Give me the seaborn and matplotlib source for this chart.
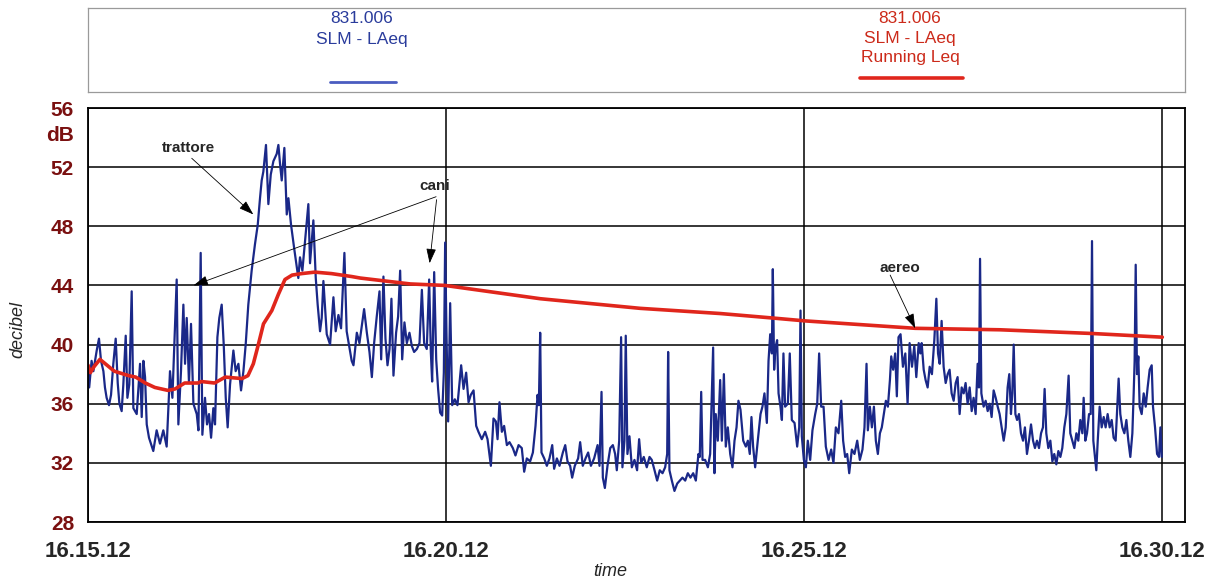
import matplotlib
matplotlib.use("Agg")
import matplotlib.pyplot as plt
import seaborn as sns
import pandas as pd

# SLM - LAeq, seconds after 16.15.12 and level in dB
slm_t = [
    0, 1, 3, 4.5, 7.3, 9.2, 10.9, 12.9, 14.2, 15.6, 17.6, 19.3, 21.2, 23.2, 24.9, 26.3, 28.2, 29.6,
    31.6, 33.0, 34.6, 36.6, 38.0, 40.8, 43.6, 45.0, 46.4, 47.8, 49.2, 51.1, 54.7, 57.5, 60.3, 63.1,
    65.9, 68.7, 70.7, 74.3, 75.7, 77.9, 79.9, 81.3, 82.7, 84.6, 86.3, 88.3, 91.1, 92.5, 94.4, 95.8,
    98.0, 99.7, 101.4, 103.1, 105.0, 106.4, 108.4, 110.0, 112.0, 113.7, 115.4, 117.0, 119.0, 121.8,
    123.7, 126.0, 128.2, 130.2, 132.1, 134.3, 137.1, 139.9, 142.2, 144.1, 145.5, 146.9, 149.1, 151.1,
    153.1, 155.3, 158.1, 159.5, 160.9, 162.3, 164.5, 166.5, 167.9, 170.1, 172.9, 176.2, 177.6, 179.6,
    184.6, 186.0, 188.8, 190.8, 192.4, 194.4, 195.8, 197.2, 200.0, 202.8, 205.6, 207.5, 209.8, 212.0,
    214.8, 216.7, 220.9,
    222.4, 225.2, 227.4, 229.4, 231.3, 233.6, 235.8, 237.8, 239.7, 241.9, 244.2, 245.6, 247.5, 249.2,
    250.9, 252.6, 254.2, 255.9, 258.1, 259.8, 261.5, 263.2, 265.1, 267.1, 269.3, 271.3, 273.2, 275.5,
    277.7, 279.7, 281.6, 283.8, 285.8, 287.2, 288.3, 290.0, 291.7, 293.3, 295.0, 296.7, 298.1, 299.2,
    300.3, 301.7, 303.4, 305.1, 307.3, 309.5, 312.6, 314.6, 316.8, 318.8, 320.7, 323.0, 325.2, 327.1,
    329.9, 332.7, 334.7, 337.5, 339.7, 341.7, 343.1, 344.7, 346.7, 348.6, 350.9, 353.1, 355.9, 358.1,
    360.7, 363.4, 365.4, 367.6, 370.4, 372.7, 374.9, 376.6, 377.7, 378.8, 379.9, 382.2, 384.4, 386.6,
    388.9, 390.5, 392.8, 395.0, 397.8, 399.8, 401.7, 403.9, 405.6, 407.8, 410.6, 412.3, 414.5, 416.8,
    419.0, 421.3, 424.0, 426.9, 428.5, 430.2, 431.3, 433.0, 435.2, 437.5, 439.7,
    441.6, 443.0, 445.0, 446.6, 447.7, 449.4, 450.5, 451.9, 453.6, 455.6, 457.8, 460.0, 461.7, 463.4,
    465.6, 468.1, 470.4, 472.3, 474.6, 476.8, 479.0, 481.3, 483.5, 485.2, 486.0, 487.1, 489.1, 491.3,
    493.6, 495.8, 498.0, 500.3, 502.5, 504.7, 507.0, 509.2, 511.4, 512.5, 513.7, 514.8, 517.0, 519.3,
    521.2, 522.6, 523.7, 524.8, 525.9, 527.6, 529.6, 531.0, 532.7, 534.3, 536.0, 538.0, 539.9, 541.6,
    543.3, 544.9, 546.6, 548.9, 551.1, 552.8, 554.4, 555.8, 557.2, 558.9, 561.1, 563.4, 565.0, 566.7,
    568.7, 570.1, 571.5, 572.9, 573.7, 574.8, 575.9, 577.3, 578.5, 580.1, 581.3, 582.6, 584.0, 586.3,
    587.9, 589.6, 591.9, 594.1, 595.8, 596.9, 598.0, 599.7, 601.4, 603.0, 605.0, 606.9, 609.2, 610.9,
    612.5, 614.2, 616.2, 618.1, 620.4, 622.6, 624.5, 626.5, 628.7, 631.0, 632.6, 634.3, 636.0, 637.7,
    639.9, 642.1, 644.4, 646.6, 648.8, 650.5, 652.2, 653.3, 655.0, 656.7, 658.4, 660.0, 661.7, 663.4,
    665.0, 666.7, 668.4, 670.1, 671.8, 672.9, 674.5, 676.2, 677.6, 679.0, 680.7,
    682.7, 684.7, 686.6, 688.3, 690.3, 692.2, 693.9, 695.9, 697.3, 698.4, 700.1, 701.7, 703.4, 705.1,
    707.0, 709.0, 710.7, 712.1, 713.5, 715.1, 716.8, 718.5, 720.2, 721.8, 723.5, 725.2, 726.9, 728.5,
    730.2, 731.9, 733.6, 735.2, 736.9, 738.6, 740.3, 741.9, 743.6, 745.3, 746.4, 747.3, 748.4, 750.3,
    752.0, 753.7, 755.4, 757.0, 758.7, 760.4, 762.1, 763.7, 765.4, 767.1, 768.8, 770.4, 771.8, 773.2,
    774.3, 775.5, 776.9, 778.3, 779.9, 781.6, 783.3, 784.9, 786.6, 788.3, 790.0, 791.7, 793.3, 795.0,
    796.7, 798.4, 800.0, 801.4, 802.8, 804.5, 806.2, 807.9, 809.5, 811.2, 812.9, 814.6, 816.2, 817.9,
    819.6, 821.5, 822.9, 824.6, 826.3, 828.0, 829.6, 831.3, 833.0, 834.1, 835.5, 836.9, 838.6, 840.0,
    841.1, 842.2, 843.6, 844.7, 845.9, 847.5, 849.2, 850.9, 852.5, 854.2, 855.9, 857.6, 859.2, 860.9,
    862.0, 863.4, 864.8, 866.5, 868.2, 869.9, 871.5, 873.2, 874.9, 876.0, 876.8, 877.7, 878.8, 879.9,
    881.0, 882.7, 884.4, 886.1, 887.7, 889.4, 891.1, 892.2, 893.9, 895.6, 897.2, 898.4, 899.5,
]
slm_db = [
    38.7, 37.1, 38.9, 38.2, 39.6, 40.4, 38.9, 38.2, 37.1, 36.4, 35.9, 36.6, 38.7, 40.4, 37.4, 36.0, 35.5, 37.3,
    40.6, 36.4, 37.3, 43.6, 35.7, 35.3, 38.7, 35.1, 38.9, 37.8, 34.6, 33.7, 32.8, 34.2, 33.3, 34.2,
    33.1, 38.2, 36.4, 44.4, 34.6, 38.2, 42.7, 38.7, 41.8, 37.4, 41.4, 36.0, 35.3, 34.2, 46.2, 33.9,
    36.4, 34.6, 35.3, 33.7, 35.7, 34.6, 40.5, 41.8, 42.7, 40.0, 36.4, 34.4, 37.3, 39.6,
    38.2, 38.7, 36.9, 38.2, 40.0, 42.7, 45.0, 46.8, 48.1, 49.9, 51.1, 51.7, 53.5, 49.5,
    51.5, 52.4, 52.9, 53.5, 52.2, 51.1, 53.3, 48.8, 49.9, 48.1, 46.4, 44.5, 45.9, 45.0,
    49.5, 45.5, 48.4, 44.5, 42.7, 40.9, 41.8, 44.3, 40.7, 40.0, 43.2, 40.9, 42.0, 41.1,
    46.2, 40.9, 38.9,
    38.6, 40.8, 40.1, 41.3, 42.4, 40.8, 39.5, 37.8, 40.1, 41.9, 43.6, 39.0, 44.6, 40.4,
    38.6, 39.7, 43.1, 37.9, 40.8, 41.9, 45.0, 39.0, 41.5, 40.1, 40.8, 39.9, 39.5, 39.7,
    40.1, 43.7, 40.1, 39.7, 44.4, 39.5, 37.5, 44.9, 39.0, 37.0, 35.4, 35.2, 38.1, 46.9,
    40.8, 34.8, 42.8, 35.9, 36.3, 35.9, 38.6, 37.0, 38.1, 36.1, 36.6, 36.9, 34.5, 34.1,
    33.6, 34.1, 33.6, 31.8, 35.0, 34.8, 33.6, 36.1, 34.1, 34.5, 33.2, 33.4, 33.0, 32.5,
    33.2, 33.0, 31.4, 32.3, 32.1, 32.7, 34.5, 36.6, 35.9, 40.8, 32.7, 32.3, 31.8, 32.3,
    33.2, 31.6, 32.3, 31.8, 32.7, 33.2, 32.1, 31.8, 31.0, 31.8, 32.3, 33.4, 31.8, 32.3,
    32.7, 31.8, 32.3, 33.2, 31.8, 36.8, 31.0, 30.3, 31.8, 33.0, 33.2,
    32.6, 31.5, 33.5, 40.5, 31.7, 33.5, 40.6, 32.6, 33.8, 31.7, 32.2, 31.5, 33.6, 32.0,
    32.4, 31.7, 32.4, 32.2, 31.5, 30.8, 31.5, 31.3, 31.7, 32.6, 39.5, 31.5, 30.8, 30.1,
    30.6, 30.8, 31.0, 30.8, 31.3, 31.0, 31.3, 30.8, 32.6, 32.4, 36.8, 32.2, 32.2, 31.7,
    32.6, 36.7, 39.8, 31.3, 35.3, 33.5, 37.6, 33.5, 38.0, 33.1, 34.4, 32.6, 31.7, 33.5,
    34.4, 36.2, 35.6, 33.5, 33.1, 33.5, 32.6, 35.1, 33.1, 31.7, 33.5, 35.3, 35.8, 36.7,
    34.7, 38.9, 40.7, 39.4, 45.1, 38.3, 39.8, 40.3, 36.7, 35.8, 34.9, 39.4, 35.8, 36.0,
    39.4, 34.9, 34.7, 33.1, 34.4, 42.3, 33.8, 32.2, 31.7, 33.5, 32.2, 34.2, 35.3, 36.0,
    39.4, 35.8, 35.8, 33.1, 32.2, 32.9, 32.0, 34.4, 34.0, 36.2, 33.5, 32.4, 32.6, 31.3,
    32.9, 32.6, 33.5, 32.2, 32.9, 34.4, 38.7, 34.2, 35.8, 34.4, 35.8, 33.5, 32.6, 34.0,
    34.4, 35.3, 36.2, 35.8, 37.6, 39.2, 38.3, 39.4, 36.5, 40.5, 40.7,
    38.5, 39.4, 36.0, 40.1, 38.5, 39.9, 37.8, 40.1, 39.4, 40.1, 38.3, 37.6, 37.1, 38.5,
    38.0, 40.3, 43.1, 39.4, 38.7, 41.6, 38.5, 37.4, 38.0, 38.3, 36.7, 36.2, 37.4, 37.8,
    35.3, 37.1, 36.7, 37.4, 36.0, 37.1, 35.5, 36.4, 35.3, 38.7, 37.1, 45.8, 36.7, 35.8,
    36.2, 35.5, 36.0, 35.1, 36.9, 36.4, 35.8, 35.3, 34.4, 33.5, 34.4, 37.1, 38.0, 35.3,
    36.7, 40.0, 35.3, 34.9, 35.3, 34.0, 33.5, 34.4, 32.6, 33.5, 34.6, 33.5, 33.0, 33.5,
    33.0, 34.0, 34.4, 37.0, 34.0, 33.0, 33.5, 32.1, 32.6, 31.9, 32.8, 32.4, 33.0, 34.4,
    35.3, 37.9, 34.0, 33.5, 33.0, 34.0, 33.5, 34.9, 34.0, 36.4, 33.5, 34.0, 35.3, 35.3,
    47.0, 33.5, 32.4, 31.5, 33.5, 35.8, 34.4, 35.1, 34.4, 35.3, 34.4, 34.9, 33.7, 33.5,
    35.3, 37.7, 35.3, 34.4, 34.0, 34.9, 33.5, 32.4, 34.0, 36.7, 38.9, 45.4, 38.0, 39.2,
    35.8, 35.3, 36.7, 35.8, 37.1, 38.3, 38.6, 35.8, 34.4, 32.6, 32.4, 34.4, 32.4,
]

# SLM - LAeq running Leq
leq_t = [0, 2, 5, 10, 22, 34, 40, 48, 56, 67, 73, 81, 92, 95, 106, 115, 129, 134, 138.5,
         142.7, 147, 154, 159.5, 165, 171, 179, 190, 204, 221, 228, 270, 299, 379, 462.6,
         529.6, 573, 601, 693, 764, 841, 900]
leq_db = [38.6, 38.1, 38.5, 39.0, 38.2, 37.9, 37.8, 37.4, 37.1, 36.9, 37.0, 37.4, 37.4, 37.5,
          37.4, 37.8, 37.7, 37.9, 38.7, 40.0, 41.4, 42.3, 43.4, 44.4, 44.7, 44.8, 44.9, 44.8,
          44.6, 44.5, 44.1, 44.0, 43.1, 42.45, 42.1, 41.8, 41.6, 41.1, 41.0, 40.75, 40.5]

time_ticks = [0, 300, 600, 900]
time_labels = ["16.15.12", "16.20.12", "16.25.12", "16.30.12"]
db_ticks = [28, 32, 36, 40, 44, 48, 52, 56]

BLUE = "#1a2888"
RED = "#e0261c"
MAROON = "#7a1010"
NARROW = ["Liberation Sans Narrow", "Liberation Sans", "DejaVu Sans"]
ARIAL = ["Liberation Sans", "DejaVu Sans"]

sns.set_style("white")
plt.rcParams["font.family"] = NARROW

slm = pd.DataFrame({"t": slm_t, "db": slm_db})
leq = pd.DataFrame({"t": leq_t, "db": leq_db})

fig = plt.figure(figsize=(12.08, 5.82), dpi=100)
ax = fig.add_axes([88 / 1208, 60 / 582, 1097 / 1208, 414 / 582])

sns.lineplot(data=slm, x="t", y="db", color=BLUE, lw=1.6, estimator=None, sort=False, ax=ax)
sns.lineplot(data=leq, x="t", y="db", color=RED, lw=2.6, estimator=None, sort=False, ax=ax)

ax.set_xlim(0, 919)
ax.set_ylim(28, 56)
ax.set_xticks(time_ticks, time_labels)
ax.set_yticks(db_ticks)
ax.grid(True, color="black", lw=1.1)
ax.set_axisbelow(True)
for s in ax.spines.values():
    s.set_color("black")
    s.set_linewidth(1.3)
ax.tick_params(axis="both", direction="out", length=8, width=0.8, color="#888888")
ax.tick_params(axis="x", labelsize=16, pad=6)
ax.tick_params(axis="y", labelsize=15, labelcolor=MAROON, pad=2)
for lab in ax.get_xticklabels() + ax.get_yticklabels():
    lab.set_fontweight("bold")
ax.set_xlabel("")
ax.set_ylabel("")

fig.text(60 / 1208, 1 - 135 / 582, "dB", color=MAROON, fontsize=15, fontweight="bold",
         ha="center", va="center")
fig.text(18 / 1208, 1 - 330 / 582, "decibel", rotation=90, fontsize=13, style="italic",
         ha="center", va="center", family=ARIAL)
fig.text(610 / 1208, 1 - 572 / 582, "time", fontsize=13, style="italic",
         ha="center", va="center", family=ARIAL)

# notes on the noise sources
arrow = dict(arrowstyle="-|>,head_length=0.9,head_width=0.3", color="black", lw=0.6,
             shrinkA=0, shrinkB=0)
note = dict(fontsize=11, fontweight="bold", ha="center", va="center", family=ARIAL)
ax.text(83.8, 53.3, "trattore", **note)
ax.annotate("", xy=(138.5, 48.8), xytext=(86.9, 52.6), arrowprops=arrow)
ax.text(290.8, 50.7, "cani", **note)
ax.annotate("", xy=(88.4, 44.0), xytext=(291.6, 50.0), arrowprops=arrow)
ax.annotate("", xy=(286.2, 45.5), xytext=(292.0, 49.8), arrowprops=arrow)
ax.text(680.5, 45.15, "aereo", **note)
ax.annotate("", xy=(693, 41.1), xytext=(672, 44.7), arrowprops=arrow)

# legend box on top
lax = fig.add_axes([88 / 1208, 1 - 92 / 582, 1097 / 1208, 84 / 582])
lax.set_xlim(88, 1185)
lax.set_ylim(92, 8)
lax.set_xticks([])
lax.set_yticks([])
for s in lax.spines.values():
    s.set_color("#9a9a9a")
    s.set_linewidth(0.9)
lax.text(362, 29, "831.006\nSLM - LAeq", color="#2a3c9c", fontsize=12.5, ha="center",
         va="center", linespacing=1.5)
lax.plot([330, 396], [82, 82], color="#4a5cc0", lw=2)
lax.text(910, 38, "831.006\nSLM - LAeq\nRunning Leq", color="#cc2a1a", fontsize=12.5,
         ha="center", va="center", linespacing=1.4)
lax.plot([860, 963], [78, 78], color=RED, lw=2.6)

fig.savefig("out.png", dpi=100)
